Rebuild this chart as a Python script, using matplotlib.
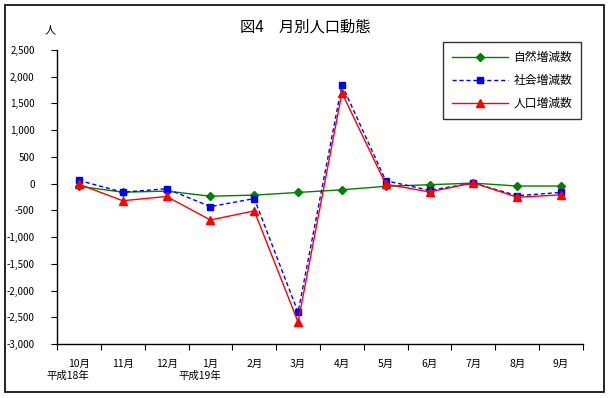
import matplotlib
matplotlib.use("Agg")
import matplotlib.pyplot as plt
from matplotlib.patches import Rectangle
import numpy as np

plt.rcParams['font.family'] = ['Noto Sans CJK JP', 'DejaVu Sans']

months = ["10月", "11月", "12月", "1月", "2月", "3月", "4月", "5月", "6月", "7月", "8月", "9月"]
natural = [-50, -160, -140, -235, -215, -165, -115, -50, -20, 10, -45, -45]
social = [60, -160, -95, -430, -280, -2405, 1850, 55, -125, 10, -225, -165]
total = [-10, -320, -240, -680, -510, -2590, 1700, -10, -155, 15, -255, -210]
yticks = [2500, 2000, 1500, 1000, 500, 0, -500, -1000, -1500, -2000, -2500, -3000]
series_names = ["自然増減数", "社会増減数", "人口増減数"]

W, H = 609, 398
fig = plt.figure(figsize=(W / 100, H / 100), dpi=100)
fig.patch.set_facecolor("white")

# outer frame
fig.patches.append(Rectangle((5 / W, 1 - 392 / H), 599 / W, 387 / H, transform=fig.transFigure,
                             fill=False, edgecolor="black", linewidth=1.2))

ax = fig.add_axes([57 / W, 1 - 344 / H, (583 - 57) / W, (344 - 50) / H])
x = np.arange(len(months)) + 0.5

ax.plot(x, natural, color="#008000", linewidth=1.0, marker="D", markersize=4,
        markerfacecolor="#008000", markeredgecolor="#008000", label=series_names[0])
ax.plot(x, social, color="#0000FF", linewidth=1.0, linestyle=(0, (3, 2)), marker="s", markersize=5,
        markerfacecolor="#0000FF", markeredgecolor="#0000FF", label=series_names[1])
ax.plot(x, total, color="#FF0000", linewidth=1.0, marker="^", markersize=6,
        markerfacecolor="#FF0000", markeredgecolor="#FF0000", label=series_names[2])

ax.set_xlim(0, len(months))
ax.set_ylim(-3000, 2500)
ax.set_yticks(yticks)
ax.set_yticklabels([f"{v:,}" for v in yticks], fontsize=7)
ax.set_xticks(np.arange(len(months) + 1))
ax.set_xticklabels([])
ax.set_xticks(x, minor=True)
ax.set_xticklabels(months, minor=True, fontsize=7.5)
ax.tick_params(axis="x", which="major", direction="out", length=4, width=0.8)
ax.tick_params(axis="x", which="minor", length=0, pad=11)
ax.tick_params(axis="y", direction="out", length=4, width=0.8, pad=12)
for s in ["top", "right"]:
    ax.spines[s].set_visible(False)
for s in ["left", "bottom"]:
    ax.spines[s].set_linewidth(1.0)
    ax.spines[s].set_color("black")

leg = ax.legend(loc="upper right", bbox_to_anchor=((581 - 57) / (583 - 57), (344 - 42) / (344 - 50)),
                fontsize=8, frameon=True, fancybox=False, edgecolor="black", borderpad=0.8,
                labelspacing=0.9, handlelength=5.0, handletextpad=0.5, borderaxespad=0,
                markerscale=0.9)
leg.get_frame().set_linewidth(1.0)
for t in leg.get_texts():
    t.set_fontsize(8.5)

fig.text(305 / W, 1 - 27 / H, "図4　月別人口動態", ha="center", va="center", fontsize=11)
fig.text(50 / W, 1 - 30 / H, "人", ha="center", va="center", fontsize=8)
fig.text(68 / W, 1 - 376 / H, "平成18年", ha="center", va="center", fontsize=7.5)
fig.text(200 / W, 1 - 376 / H, "平成19年", ha="center", va="center", fontsize=7.5)

fig.savefig("out.png", dpi=100, facecolor="white")
